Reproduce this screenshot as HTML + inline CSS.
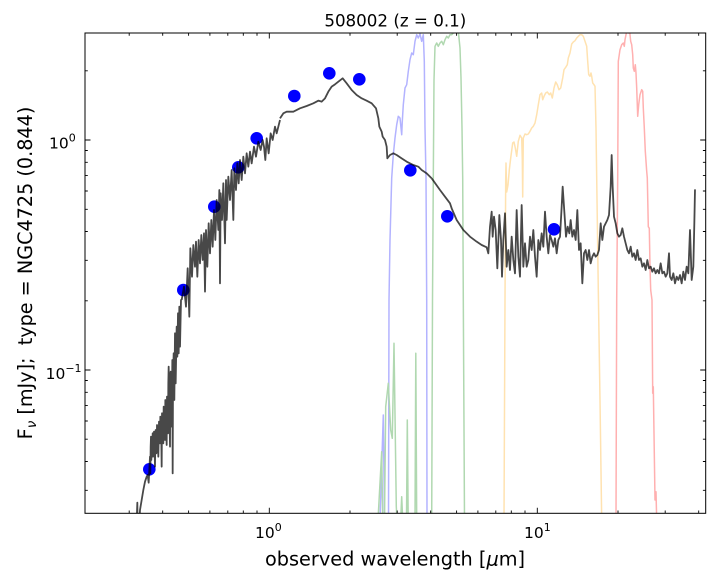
<!DOCTYPE html>
<html><head><meta charset="utf-8"><style>html,body{margin:0;padding:0;background:#fff;}svg{display:block;}</style></head>
<body>
<svg width="720" height="587" viewBox="0 0 720 587" xmlns="http://www.w3.org/2000/svg" font-family="'DejaVu Sans','Liberation Sans',sans-serif">
<defs><clipPath id="c"><rect x="85" y="33" width="620.7" height="480.3"/></clipPath></defs>
<rect width="720" height="587" fill="#fff"/>

<!-- filter curves -->
<g clip-path="url(#c)" fill="none" stroke-width="1.5" stroke-linejoin="round">
<path stroke="#b3b3ff" d="M380,520 L383.3,415 L384.5,520 M388.5,520 L389,300 L390,240 L391.7,178 L393.3,154.7 L395,138 L396.7,124.7 L398.3,116.3 L400,118 L401.7,134.7 L402.3,121.3 L403.3,104.7 L405,88 L406.7,84.7 L408.3,71.3 L410,59.7 L411.7,53 L413.3,54.7 L415,41.3 L416.7,34.7 L418.3,38 L420,34 L421.7,41.3 L423.3,34.7 L424.3,61.3 L425,128 L426,178 L426.7,300 L427,520"/>
<path stroke="#b0d8b0" d="M378,520 L381.7,451.7 L382.7,520 M384.5,520 L385.7,406.7 L388.3,383.3 L390.7,430 L392.3,438.3 L394,343.3 L396.3,506.7 L397,520 M400.7,520 L401.7,496.7 L402.7,520 M406.5,520 L407.3,420 L408.2,520 M415,520 L415.8,353.3 L416.7,520 M431.7,520 L432.5,300 L433.3,178 L434,80 L435,46.3 L436.7,43 L438.3,46.3 L440,43 L441.7,41.3 L443.3,44.7 L445,39.7 L446.7,36.3 L448.3,38 L450,34.7 L451.7,34.7 L453.3,33 L455,31.3 L456.7,33 L458.3,31.3 L460,48 L461,78 L462,128 L462.7,178 L463.3,300 L464.5,520"/>
<path stroke="#ffe2b0" d="M504,520 L505,300 L505.7,180 L506,163 L506.7,192 L508,185 L509.3,170 L510.7,158 L512.7,143 L514,142 L515.3,148 L516.7,156.3 L518.3,141.3 L520,135.3 L521.7,138 L522.3,160 L522.7,197 L523.3,138 L525,134 L526.7,134.7 L528.3,134 L530,131.3 L531.7,128 L533.3,126.3 L535,123 L536.7,114.7 L538.3,104.7 L540,94.7 L541.7,93 L542.7,99.7 L544,96.3 L545.7,93 L547.3,92 L549.3,94.7 L550.7,93 L552.3,98 L554,88 L555.7,82 L557.3,84.7 L559,89.7 L560.7,88 L562.7,78 L564,69.7 L565.7,67.3 L567.3,64.7 L568.3,58 L570,53 L571.7,44 L573.3,42 L575,40.7 L576.7,38 L578.3,36.3 L580,34.7 L581.7,34.7 L583.3,36.3 L585,41.3 L586.7,46.3 L587.7,61.3 L588.7,74.7 L590,76.3 L591,73 L591.7,76.3 L592.7,83 L594,84.7 L595,86.3 L596,128 L596.7,178 L598.3,290 L600,400 L601.7,520"/>
<path stroke="#ffb0b0" d="M616,520 L616.7,300 L617.7,178 L618.3,61.3 L620,49.7 L621.7,44.7 L623.3,43 L624.3,46.3 L625,39.7 L626,34.7 L626.7,31.3 L627.3,28 L628.3,33 L629.3,28 L630,34.7 L630.7,41.3 L631.7,44.7 L632.7,54.7 L633.3,68 L634.3,71.3 L635.3,64.7 L636,73 L636.7,88 L637.7,116.3 L638.7,104.7 L640,94.7 L641.7,89.7 L642.7,91.3 L643.3,108 L644.3,128 L645.3,151.3 L646.7,171.3 L647.3,178 L648.3,226.7 L649.3,228.3 L650,266.7 L650.7,290 L652,300 L652.7,393.3 L653.3,386.7 L654,433.3 L655,500 L656,491.7 L656.7,520"/>
</g>

<!-- photometry points -->
<g fill="#0000ff">
<circle cx="149.3" cy="469.3" r="6.3"/>
<circle cx="183.3" cy="290" r="6.3"/>
<circle cx="214.3" cy="206.7" r="6.3"/>
<circle cx="238.3" cy="167.3" r="6.3"/>
<circle cx="256.7" cy="138.3" r="6.3"/>
<circle cx="294.3" cy="96" r="6.3"/>
<circle cx="329.3" cy="73.3" r="6.3"/>
<circle cx="359.3" cy="79.3" r="6.3"/>
<circle cx="410.3" cy="170.3" r="6.3"/>
<circle cx="447.3" cy="216.3" r="6.3"/>
<circle cx="554" cy="229.3" r="6.3"/>
</g>

<!-- model spectrum -->
<g clip-path="url(#c)">
<g opacity="0.72" fill="none" stroke="#000" stroke-width="1.8" stroke-linejoin="round">
<g transform="translate(100,300) scale(0.333333)">
<path vector-effect="non-scaling-stroke" d="M108,720 L112,608 L113,700 L116,700 L120,630 L125,600 L130,570 L135,545 L140,530 L143,525 L146,548 L148,510 L150,470 L151,520 L152,440 L153,410 L154,480 L156,430 L157,455 L158,400 L159,470 L160,420 L161,445 L162,395 L164,460 L165,500 L166,400 L167,390 L169,460 L170,450 L171,375 L172,380 L174,440 L175,470 L177,365 L178,370 L180,430 L181,350 L182,360 L184,420 L185,500 L186,340 L187,345 L189,400 L190,430 L191,320 L192,330 L194,390 L195,420 L196,300 L197,320 L199,400 L200,435 L201,290 L202,300 L204,400 L205,250 L206,200 L208,310 L210,440 L211,230 L212,215 L215,380 L217,180 L218,520 L219,240 L221,160 L223,300 L225,100 L227,250 L230,80 L232,170 L234,40 L236,160 L238,20 L240,140 L243,0 L245,0"/>
</g>
<g transform="translate(110,120) scale(0.333333)">
<path vector-effect="non-scaling-stroke" d="M215,540 L222,500 L228,560 L233,445 L238,590 L241,385 L246,470 L250,375 L255,440 L258,365 L262,470 L266,360 L270,430 L274,345 L278,420 L282,340 L285,515 L288,330 L292,440 L296,310 L300,400 L304,300 L308,380 L312,270 L316,360 L320,240 L325,330 L328,210 L330,490 L332,220 L336,300 L340,190 L345,370 L348,180 L350,300 L355,170 L360,240 L365,150 L370,300 L373,145 L378,210 L382,130 L386,190 L390,120 L395,180 L400,110 L405,160 L410,100 L415,140 L420,95 L425,130 L432,80 L438,110 L445,65 L452,90 L458,60 L462,80 L466,120 L470,55 L476,100 L482,40 L488,60 L495,20 L500,40 L510,0"/>
</g>
<g transform="translate(250,30) scale(0.333333)">
<path vector-effect="non-scaling-stroke" d="M90,265 L100,250 L110,245 L130,245 L150,235 L170,228 L190,220 L205,212 L215,215 L225,205 L235,185 L245,170 L255,163 L265,155 L278,145 L290,160 L305,180 L320,195 L335,205 L350,212 L365,220 L378,235 L385,265 L388,290 L395,305 L398,320 L405,330 L410,350 L412,385 L420,375 L430,370 L440,375 L455,385 L470,395 L490,405 L505,410 L515,420 L530,430 L545,445"/>
</g>
<g transform="translate(440,140) scale(0.333333)">
<path vector-effect="non-scaling-stroke" d="M-25,115 L0,150 L15,170 L30,190 L35,205 L50,240 L70,270 L90,290 L110,305 L125,315 L140,322 L145,340 L150,260 L155,215 L158,290 L162,230 L167,270 L172,385 L178,225 L183,300 L186,410 L190,300 L195,220 L200,380 L205,330 L210,390 L215,290 L220,360 L225,400 L230,210 L235,350 L240,410 L245,195 L250,380 L255,310 L260,380 L265,360 L270,290 L275,330 L280,270 L285,350 L290,410 L295,300 L300,330 L305,280 L310,320 L315,215 L320,290 L325,340 L330,285 L335,300 L340,320 L345,295 L350,340 L355,300 L360,290 L365,200 L368,140 L372,200 L378,290 L383,260 L388,280 L392,240 L397,290 L402,270 L407,300 L412,210 L417,330 L422,310 L427,430 L432,340 L437,330 L442,360 L447,330 L452,370 L457,350 L462,340 L467,350 L472,345 L477,330 L482,250 L487,300 L492,260 L497,250 L502,240 L507,225 L512,140 L515,45 L518,140 L522,230 L527,250 L532,280 L537,290 L542,285 L547,265 L552,290 L557,310 L562,330 L567,340 L572,320 L577,350 L582,340 L587,360 L592,330 L597,360 L602,355 L607,380 L612,370 L617,390 L622,360 L627,385 L632,380 L637,395 L642,385 L647,400 L652,390 L657,400 L662,370 L667,400 L672,395 L677,410 L682,400 L687,340 L690,410 L695,420 L700,400 L705,430 L710,410 L715,420 L720,405 L725,430 L730,395 L735,420 L740,380 L745,400 L750,270 L755,420 L760,380 L763,250 L765,148"/>
</g>
</g>
</g>

<!-- frame -->
<rect x="85" y="33" width="620.7" height="480.3" fill="none" stroke="#000" stroke-width="1"/>

<!-- ticks -->
<g stroke="#000" stroke-width="0.9">
<path d="M269.3,513.3 V507.8 M537.3,513.3 V507.8 M269.3,33 V38.5 M537.3,33 V38.5"/>
<path d="M129.2,513.3 V510.5 M162.7,513.3 V510.5 M188.6,513.3 V510.5 M209.9,513.3 V510.5 M227.8,513.3 V510.5 M243.3,513.3 V510.5 M257,513.3 V510.5 M350,513.3 V510.5 M397.2,513.3 V510.5 M430.7,513.3 V510.5 M456.6,513.3 V510.5 M477.9,513.3 V510.5 M495.8,513.3 V510.5 M511.3,513.3 V510.5 M525,513.3 V510.5 M618,513.3 V510.5 M665.2,513.3 V510.5 M698.7,513.3 V510.5"/>
<path d="M129.2,33 V35.8 M162.7,33 V35.8 M188.6,33 V35.8 M209.9,33 V35.8 M227.8,33 V35.8 M243.3,33 V35.8 M257,33 V35.8 M350,33 V35.8 M397.2,33 V35.8 M430.7,33 V35.8 M456.6,33 V35.8 M477.9,33 V35.8 M495.8,33 V35.8 M511.3,33 V35.8 M525,33 V35.8 M618,33 V35.8 M665.2,33 V35.8 M698.7,33 V35.8"/>
<path d="M85,140 H90.5 M85,370 H90.5 M705.7,140 H700.2 M705.7,370 H700.2"/>
<path d="M85,70.8 H87.8 M85,150.5 H87.8 M85,162.3 H87.8 M85,175.6 H87.8 M85,191 H87.8 M85,209.3 H87.8 M85,231.5 H87.8 M85,260.3 H87.8 M85,300.8 H87.8 M85,380.5 H87.8 M85,392.3 H87.8 M85,405.6 H87.8 M85,421 H87.8 M85,439.2 H87.8 M85,461.5 H87.8 M85,490.3 H87.8"/>
<path d="M705.7,70.8 H702.9 M705.7,150.5 H702.9 M705.7,162.3 H702.9 M705.7,175.6 H702.9 M705.7,191 H702.9 M705.7,209.3 H702.9 M705.7,231.5 H702.9 M705.7,260.3 H702.9 M705.7,300.8 H702.9 M705.7,380.5 H702.9 M705.7,392.3 H702.9 M705.7,405.6 H702.9 M705.7,421 H702.9 M705.7,439.2 H702.9 M705.7,461.5 H702.9 M705.7,490.3 H702.9"/>
</g>

<!-- tick labels -->
<g fill="#000" font-size="15.5">
<text x="255" y="538">10<tspan dy="-7" font-size="11">0</tspan></text>
<text x="524" y="538">10<tspan dy="-7" font-size="11">1</tspan></text>
<text x="49" y="148.3">10<tspan dy="-7" font-size="11">0</tspan></text>
<text x="45.6" y="379">10<tspan dy="-7" font-size="11">−1</tspan></text>
</g>

<!-- title & labels -->
<text x="395.3" y="26.7" font-size="16.7" text-anchor="middle" fill="#000">508002 (z = 0.1)</text>
<text x="395" y="565.7" font-size="19.3" text-anchor="middle" fill="#000">observed wavelength [<tspan font-style="italic">μ</tspan>m]</text>
<text transform="translate(32,273) rotate(-90)" font-size="19.2" text-anchor="middle" fill="#000">F<tspan font-size="13.5" font-style="italic" dy="4">ν</tspan><tspan dy="-4"> [mJy];&#160; type = NGC4725 (0.844)</tspan></text>
</svg>
</body></html>
